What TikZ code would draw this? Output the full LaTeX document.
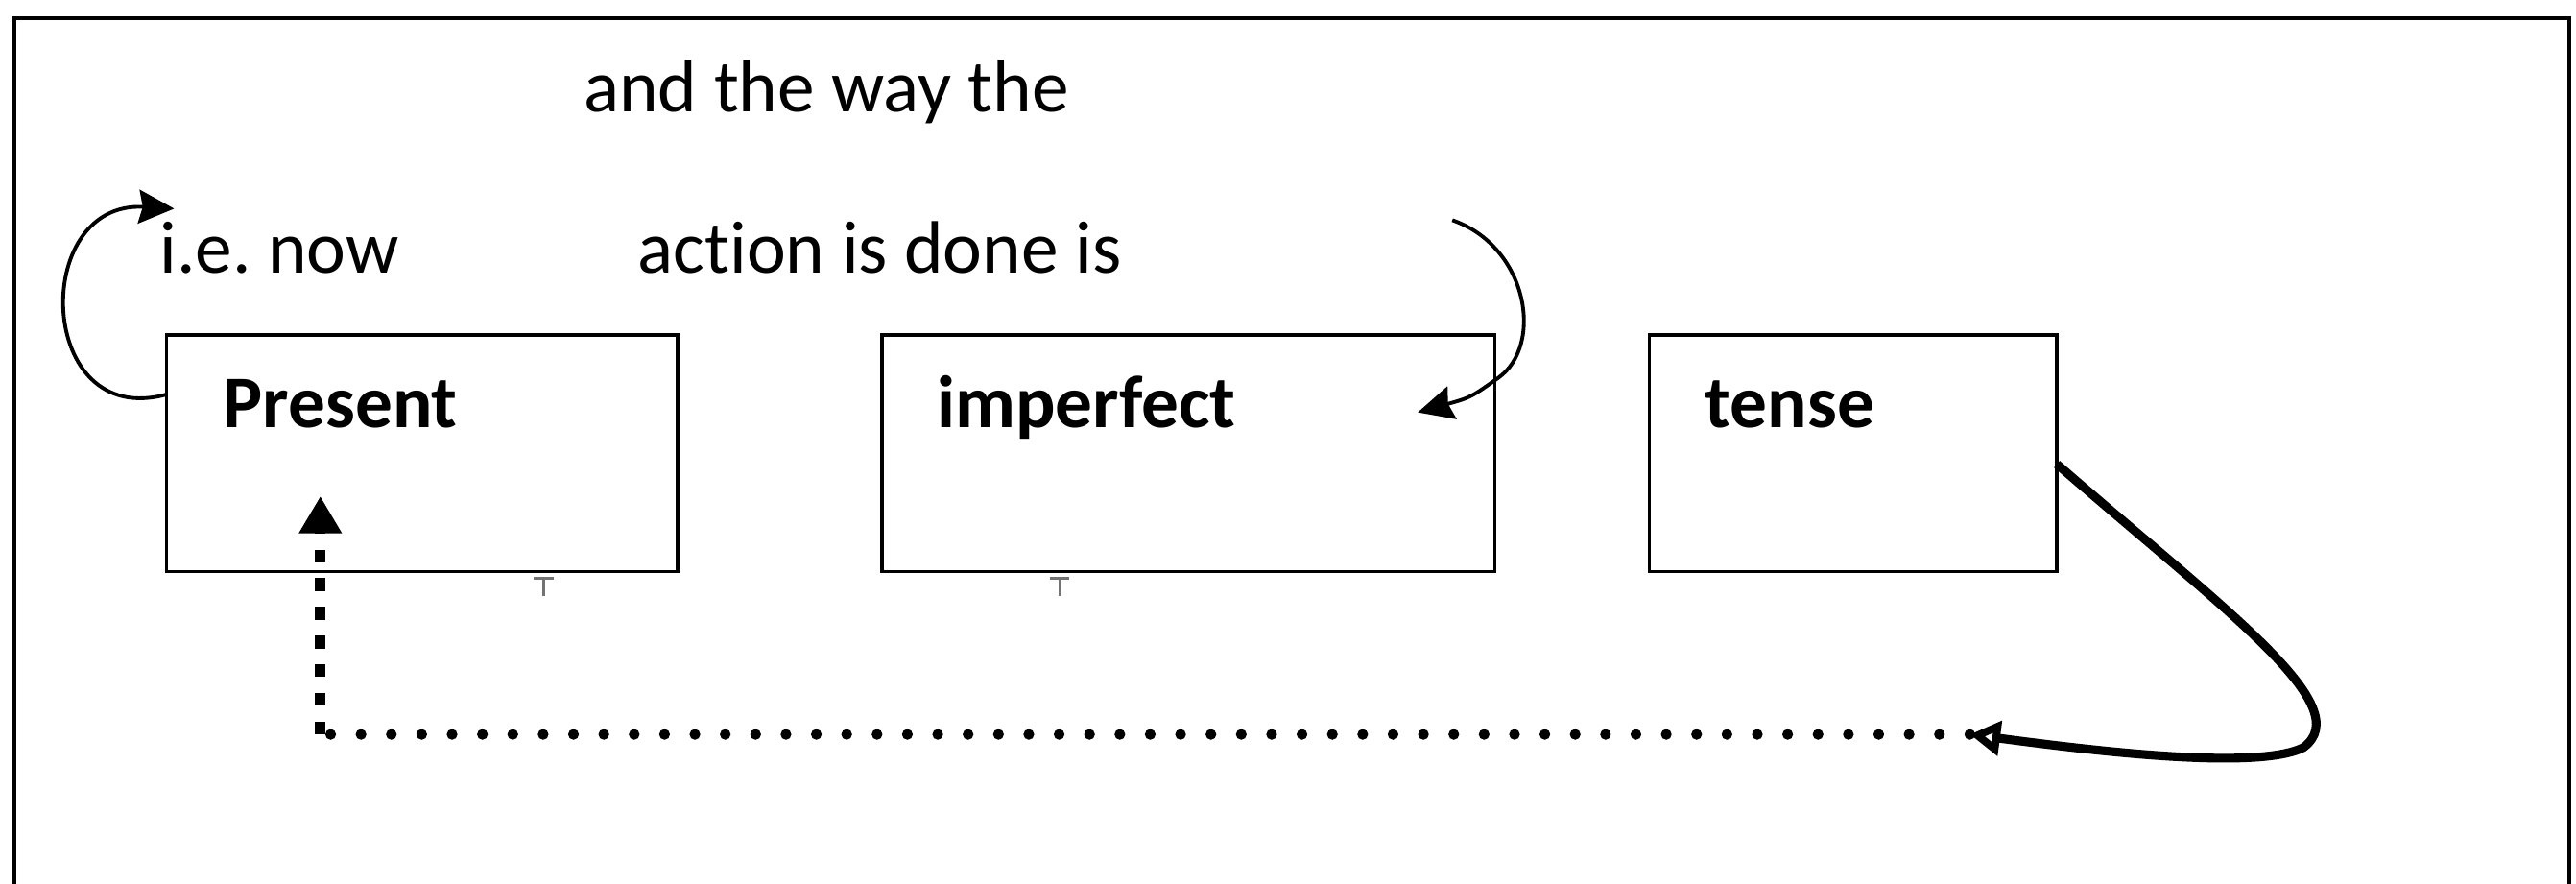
\documentclass[tikz,border=0pt]{standalone}
\usepackage{fontspec}
\setmainfont{Carlito}[Ligatures=NoCommon]
\frenchspacing
\usetikzlibrary{arrows.meta}
\begin{document}
\begin{tikzpicture}[x=0.01712cm,y=-0.01712cm,
  txt/.style={anchor=base west,inner sep=0pt,font=\fontsize{22}{26}\selectfont},
  btxt/.style={txt,font=\fontsize{22}{26}\selectfont\bfseries},
  box/.style={draw,line width=1pt,inner sep=0pt,outer sep=0pt,minimum height=2.465cm},
  thinarrow/.style={line width=1.1pt,-{Stealth[length=10.5pt,width=10pt,inset=1.2pt]}},
  thickarrow/.style={line width=2.6pt,-{Triangle[open,fill=white,length=9pt,width=10pt]}},
  dotline/.style={line width=3.2pt,line cap=round,dash pattern=on 0pt off 9pt},
  dashline/.style={line width=3.2pt,dash pattern=on 3.8pt off 4.7pt,-{Triangle[length=11pt,width=12pt]}},
  tick/.style={line width=0.7pt,black!55}]
\useasboundingbox (0,0) rectangle (1568,538);
% frame, open at the bottom
\draw[line width=1.1pt] (9,538) -- (9,11) -- (1564,11) -- (1564,538);
% texts
\node[txt] (t1) at (355,68) {and the way the};
\node[txt] (t2) at (97,166.5) {i.e. now};
\node[txt] (t3) at (388,166.5) {action is done is};
% boxes
\node[box,minimum width=5.324cm] (present) at (256.8,276) {};
\node[box,minimum width=6.386cm] (imperfect) at (723.5,276) {};
\node[box,minimum width=4.246cm] (tense) at (1128,276) {};
\node[btxt] (presentlbl) at (135.6,260) {Present};
\node[btxt] (imperfectlbl) at (570,260) {imperfect};
\node[btxt] (tenselbl) at (1037.7,260) {tense};
% small tick marks below boxes
\draw[tick] (325,352) -- (337,352) (331,352) -- (331,363);
\draw[tick] (639,352) -- (651,352) (645,352) -- (645,363);
% coordinates
\coordinate (a1) at (106,127);
\coordinate (b1) at (884,134);
\coordinate (b2) at (863,251);
\coordinate (c1) at (1199,447);
\coordinate (c2) at (195,447);
\coordinate (p1) at (195,302);
% connectors
\draw[thinarrow] (present.167.3) .. controls (22,262) and (18,122) .. (a1);
\draw[thinarrow] (b1) .. controls (930,150) and (940,210) .. (912,230) .. controls (895,242) .. (b2);
\draw[dotline] (c1) -- (c2);
\draw[dashline] (c2) -- (p1);
\draw[thickarrow] (tense.-3.2) .. controls (1355,372) and (1436,430) .. (1402,455) .. controls (1372,470) and (1260,455) .. (c1);
\end{tikzpicture}
\end{document}
